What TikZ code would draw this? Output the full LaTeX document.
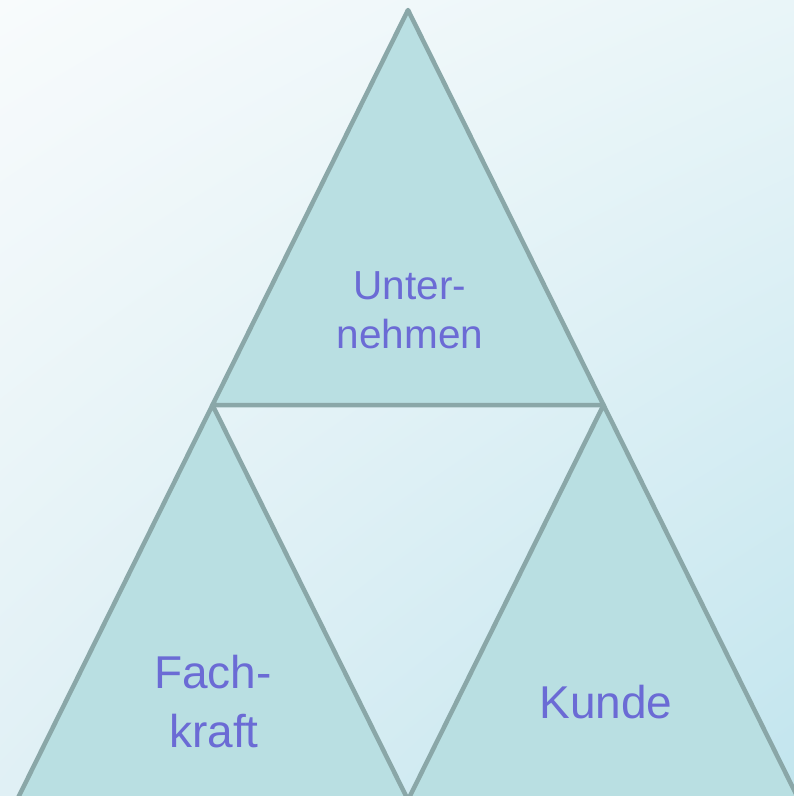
\documentclass[tikz,border=0pt]{standalone}
\usepackage{fontspec}
\setmainfont{Liberation Sans}
\usetikzlibrary{shadings}
\definecolor{bgTL}{HTML}{F8FBFC}
\definecolor{bgTR}{HTML}{E9F5F8}
\definecolor{bgBL}{HTML}{E0F0F5}
\definecolor{bgBR}{HTML}{C2E5EE}
\definecolor{trifill}{HTML}{B9DFE2}
\definecolor{tristroke}{HTML}{8AA7A8}
\definecolor{txt}{HTML}{6B6BD5}
\tikzset{
  tri/.style={fill=trifill, draw=tristroke, line width=4.5pt, line join=round},
  toplabel/.style={text=txt, align=center, font=\fontsize{40.5}{49}\selectfont, inner sep=0pt},
  botlabel/.style={text=txt, align=center, font=\fontsize{46}{59}\selectfont, inner sep=0pt},
}
\begin{document}
\begin{tikzpicture}[x=1pt, y=-1pt]
\useasboundingbox (0,0) rectangle (794,796);
\clip (0,0) rectangle (794,796);
\shade[upper left=bgTL, upper right=bgTR, lower left=bgBL, lower right=bgBR] (0,0) rectangle (794,796);
% apex and base coordinates
\coordinate (A) at (408,10);
\coordinate (L) at (212.5,405);
\coordinate (R) at (603.5,405);
\coordinate (BL) at (17,800);
\coordinate (BM) at (408,800);
\coordinate (BR) at (799,800);
\draw[tri] (A) -- (R) -- (L) -- cycle;
\draw[tri] (L) -- (BM) -- (BL) -- cycle;
\draw[tri] (R) -- (BR) -- (BM) -- cycle;
\node[toplabel, anchor=base] (unter) at (410,299) {Unter-};
\node[toplabel, anchor=base] (nehmen) at (410,348) {nehmen};
\node[botlabel, anchor=base] (fach) at (213,688) {Fach-};
\node[botlabel, anchor=base] (kraft) at (214,747) {kraft};
\node[botlabel, anchor=base] (kunde) at (606,718) {Kunde};
\end{tikzpicture}
\end{document}
